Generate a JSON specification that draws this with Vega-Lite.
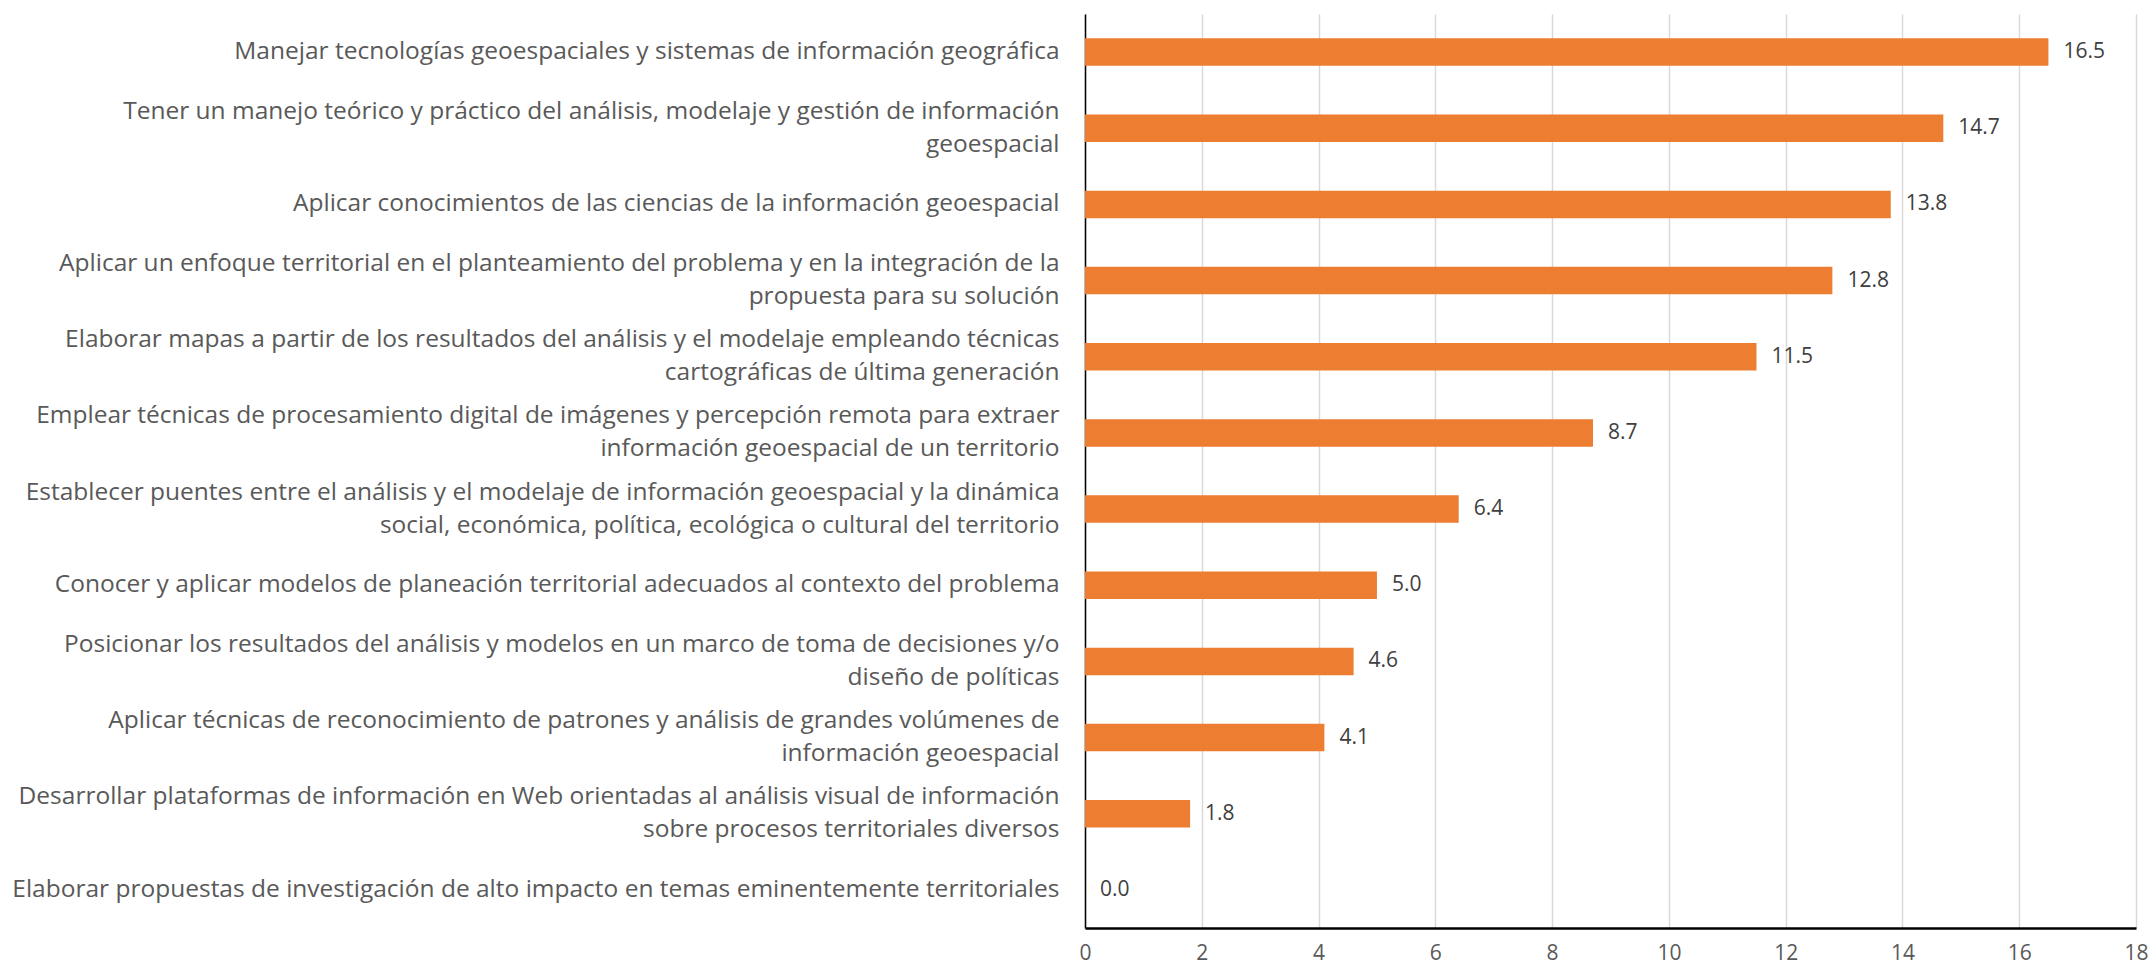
{
  "$schema": "https://vega.github.io/schema/vega-lite/v6.json",
  "autosize": {"type": "none"},
  "padding": {"left": 1085, "top": 14, "right": 20, "bottom": 36},
  "width": 1051,
  "height": 914,
  "background": "white",
  "config": {
    "view": {"stroke": null},
    "font": "Open Sans"
  },
  "data": {
    "values": [
      {"label": "Manejar tecnologías geoespaciales y sistemas de información geográfica", "value": 16.5},
      {"label": "Tener un manejo teórico y práctico del análisis, modelaje y gestión de información|geoespacial", "value": 14.7},
      {"label": "Aplicar conocimientos de las ciencias de la información geoespacial", "value": 13.8},
      {"label": "Aplicar un enfoque territorial en el planteamiento del problema y en la integración de la|propuesta para su solución", "value": 12.8},
      {"label": "Elaborar mapas a partir de los resultados del análisis y el modelaje empleando técnicas|cartográficas de última generación", "value": 11.5},
      {"label": "Emplear técnicas de procesamiento digital de imágenes y percepción remota para extraer|información geoespacial de un territorio", "value": 8.7},
      {"label": "Establecer puentes entre el análisis y el modelaje de información geoespacial y la dinámica|social, económica, política, ecológica o cultural del territorio", "value": 6.4},
      {"label": "Conocer y aplicar modelos de planeación territorial adecuados al contexto del problema", "value": 5.0},
      {"label": "Posicionar los resultados del análisis y modelos en un marco de toma de decisiones y/o|diseño de políticas", "value": 4.6},
      {"label": "Aplicar técnicas de reconocimiento de patrones y análisis de grandes volúmenes de|información geoespacial", "value": 4.1},
      {"label": "Desarrollar plataformas de información en Web orientadas al análisis visual de información|sobre procesos territoriales diversos", "value": 1.8},
      {"label": "Elaborar propuestas de investigación de alto impacto en temas eminentemente territoriales", "value": 0.0}
    ]
  },
  "encoding": {
    "y": {
      "field": "label",
      "type": "nominal",
      "sort": null,
      "scale": {"paddingInner": 0.64, "paddingOuter": 0.32},
      "axis": {
        "title": null,
        "labelExpr": "split(datum.label, '|')",
        "labelFontSize": 24.5,
        "labelColor": "#595959",
        "labelLineHeight": 33,
        "labelPadding": 26,
        "labelLimit": 1080,
        "labelOffset": {"condition": {"test": "indexof(datum.label, '|') >= 0", "value": -16.5}, "value": 0},
        "ticks": false,
        "domain": true,
        "domainColor": "#000000",
        "domainWidth": 1.5,
        "labelFont": "Open Sans"
      }
    }
  },
  "layer": [
    {
      "mark": {"type": "bar", "color": "#ED7D31"},
      "encoding": {
        "x": {
          "field": "value",
          "type": "quantitative",
          "scale": {"domain": [0, 18]},
          "axis": {
            "title": null,
            "values": [0, 2, 4, 6, 8, 10, 12, 14, 16, 18],
            "format": "d",
            "grid": true,
            "gridColor": "#D9D9D9",
            "gridWidth": 1.5,
            "ticks": false,
            "domainColor": "#000000",
            "domainWidth": 2.5,
            "labelFontSize": 21,
            "labelColor": "#595959",
            "labelPadding": 14,
            "labelFont": "Open Sans",
            "labelFlush": false
          }
        }
      }
    },
    {
      "mark": {"type": "text", "align": "left", "baseline": "middle", "dx": 15, "fontSize": 21, "color": "#404040", "font": "Open Sans"},
      "encoding": {
        "x": {"field": "value", "type": "quantitative"},
        "text": {"field": "value", "type": "quantitative", "format": ".1f"}
      }
    }
  ]
}
